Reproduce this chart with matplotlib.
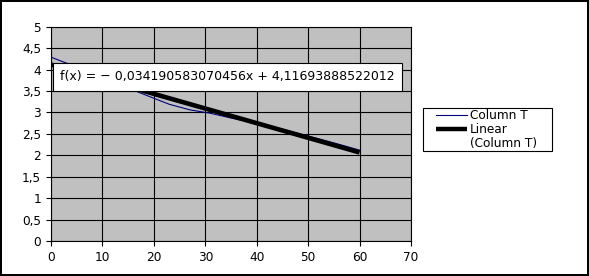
import numpy as np
import matplotlib
matplotlib.use("Agg")
import matplotlib.pyplot as plt
from matplotlib.lines import Line2D
from matplotlib.patches import Rectangle

# series "Column T"
col_x = np.array([0, 3, 8, 12, 16, 20, 23, 27, 31, 35, 40, 45, 50, 55, 60])
col_y = np.array([4.29, 4.15, 3.93, 3.72, 3.52, 3.33, 3.19, 3.06, 2.98, 2.87,
                  2.74, 2.61, 2.45, 2.29, 2.12])

# trend line coefficients (as printed in the chart)
slope = -0.034190583070456
intercept = 4.11693888522012
trend_x = np.array([0, 60])

x_ticks = np.arange(0, 71, 10)
y_ticks = np.arange(0, 5.01, 0.5)

W, H = 589, 276
fig = plt.figure(figsize=(W / 100, H / 100), dpi=100)
fig.patch.set_edgecolor("black")
fig.patch.set_linewidth(1.6)
ax = fig.add_axes([51 / W, 1 - 241 / H, 360 / W, (241 - 26.7) / H])
ax.set_facecolor("#c0c0c0")

ax.plot(col_x, col_y, color="#000080", lw=0.8, zorder=3)
ax.plot(trend_x, slope * trend_x + intercept, color="black", lw=3.3,
        solid_capstyle="butt", zorder=4)

ax.set_xlim(0, 70)
ax.set_ylim(0, 5)
ax.set_xticks(x_ticks)
ax.set_yticks(y_ticks)
ax.set_yticklabels([("%g" % v).replace(".", ",") for v in y_ticks])
ax.grid(True, color="black", lw=0.8, zorder=1)
ax.set_axisbelow(True)
ax.tick_params(direction="out", length=3.6, width=0.8, color="black",
               labelsize=8.7, pad=3.5)
for s in ax.spines.values():
    s.set_color("black")
    s.set_linewidth(0.8)

# equation label
eq = "f(x) = \u2212 " + ("%.15f" % -slope).replace(".", ",") + "x + " + \
     ("%.14f" % intercept).replace(".", ",")
fig.text(60 / W, 1 - 76.5 / H, eq, fontsize=9, ha="left", va="center",
         zorder=10,
         bbox=dict(boxstyle="square,pad=0.6", fc="white", ec="black", lw=0.8))

# legend drawn by hand
fig.add_artist(Rectangle((423 / W, 1 - 151 / H), 129 / W, 43 / H,
                         transform=fig.transFigure, fc="white", ec="black",
                         lw=0.8))
fig.add_artist(Line2D([436 / W, 467 / W], [1 - 115 / H] * 2,
                      transform=fig.transFigure, color="#000080", lw=0.8))
fig.add_artist(Line2D([436 / W, 467 / W], [1 - 129 / H] * 2,
                      transform=fig.transFigure, color="black", lw=3.2,
                      solid_capstyle="butt"))
for txt, yy in [("Column T", 115), ("Linear", 129), ("(Column T)", 143)]:
    fig.text(470 / W, 1 - yy / H, txt, fontsize=8.7, ha="left", va="center")

fig.savefig("out.png", dpi=100)
